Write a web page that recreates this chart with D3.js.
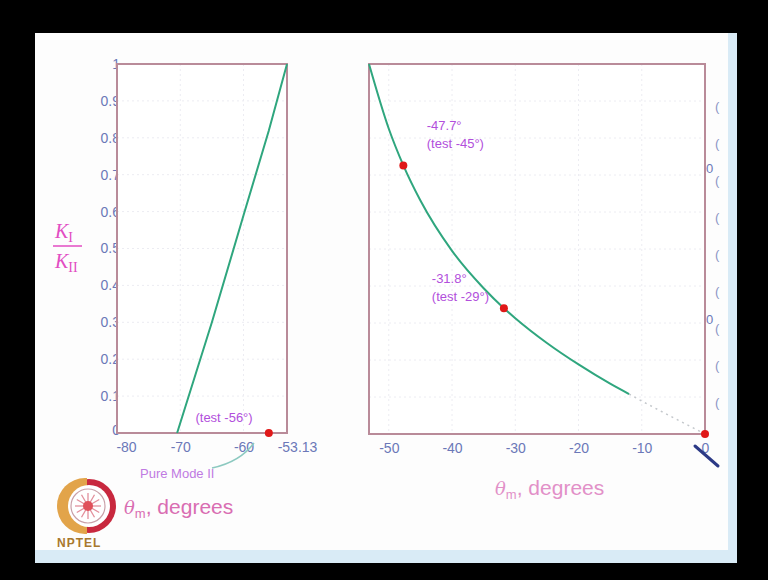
<!DOCTYPE html>
<html>
<head>
<meta charset="utf-8">
<script src="https://cdn.jsdelivr.net/npm/d3@7"></script>
<style>
  html, body { margin: 0; padding: 0; background: #000; }
  svg { display: block; font-family: "Liberation Sans", Arial, sans-serif; }
</style>
</head>
<body>
<svg id="chart" width="768" height="580"></svg>
<script>
// ratio ticks shared by both panels
const ratioTicks = [0, 0.1, 0.2, 0.3, 0.4, 0.5, 0.6, 0.7, 0.8, 0.9, 1];
const ratioLabels = ["0", "0.1", "0.2", "0.3", "0.4", "0.5", "0.6", "0.7", "0.8", "0.9", "1"];

// left panel: K_I / K_II against theta_m
const leftTicks = [-80, -70, -60, -53.13];
const leftTickLabels = ["-80", "-70", "-60", "-53.13"];
const leftTheta = [-70.5, -65, -60, -56, -53.13];
const leftRatio = [0, 0.3, 0.59, 0.82, 1];
const leftMarkTheta = [-56];
const leftMarkRatio = [0];

// right panel: K_II / K_I against theta_m
const rightTicks = [-50, -40, -30, -20, -10, 0];
const rightTickLabels = ["-50", "-40", "-30", "-20", "-10", "0"];
const rightTheta = [-53.13, -50, -47.7, -45, -40, -35, -31.8, -30, -25, -20, -15, -12];
const rightRatio = [1, 0.825, 0.726, 0.631, 0.495, 0.394, 0.34, 0.313, 0.246, 0.188, 0.136, 0.108];
const tailTheta = [-12, -10, -5, 0];
const tailRatio = [0.108, 0.089, 0.044, 0];
const rightMarkTheta = [-47.7, -31.8, 0];
const rightMarkRatio = [0.726, 0.34, 0];

// clipped label fragments on the right edge
const fragTicks = [0.1, 0.2, 0.3, 0.4, 0.5, 0.6, 0.7, 0.8, 0.9];
const fragZero = [0.72, 0.31];

const boxColor = "#b98b99";
const tickColor = "#6b78b8";
const lineColor = "#2fa67e";
const dotColor = "#e01818";
const noteColor = "#b24fdc";
const titleColor = "#d96db2";

const svg = d3.select("#chart");

// slide background
svg.append("rect").attr("x", 35).attr("y", 33).attr("width", 702).attr("height", 530).attr("fill", "#fdfdfd");
svg.append("rect").attr("x", 728).attr("y", 33).attr("width", 9).attr("height", 530).attr("fill", "#d9ebf6");
svg.append("rect").attr("x", 35).attr("y", 550).attr("width", 702).attr("height", 13).attr("fill", "#d9ebf6");

function panel(opts) {
  const { left, right, top, bottom, domain, ticks, tickLabels, showY } = opts;
  const x = d3.scaleLinear().domain(domain).range([left, right]);
  const y = d3.scaleLinear().domain([0, 1]).range([bottom, top]);

  if (showY) {
    svg.append("g")
      .attr("transform", `translate(${left},0)`)
      .call(d3.axisLeft(y).tickValues(ratioTicks).tickSize(0).tickPadding(-3)
        .tickFormat((d, i) => ratioLabels[i]))
      .call(g => g.select(".domain").remove())
      .selectAll("text")
      .attr("fill", tickColor)
      .style("font-size", "14px")
      .style("font-family", "Liberation Sans, Arial, sans-serif");
  }

  // plot area covers the right edge of the y labels
  svg.append("rect")
    .attr("x", left + 1).attr("y", top)
    .attr("width", right - left - 1).attr("height", bottom - top)
    .attr("fill", "#ffffff");

  // faint dotted grid
  const grid = svg.append("g").attr("stroke", "#ececf2").attr("stroke-dasharray", "2,3");
  grid.selectAll(".gy").data(ratioTicks.slice(1, -1)).join("line")
    .attr("x1", left).attr("x2", right)
    .attr("y1", d => y(d)).attr("y2", d => y(d));
  grid.selectAll(".gx").data(ticks.filter(t => x(t) > left + 2 && x(t) < right - 2)).join("line")
    .attr("x1", d => x(d)).attr("x2", d => x(d))
    .attr("y1", top).attr("y2", bottom);

  svg.append("g")
    .attr("transform", `translate(0,${bottom})`)
    .call(d3.axisBottom(x).tickValues(ticks).tickSize(0).tickPadding(9)
      .tickFormat((d, i) => tickLabels[i]))
    .call(g => g.select(".domain").remove())
    .selectAll("text")
    .attr("fill", tickColor)
    .style("font-size", "14px")
    .style("font-family", "Liberation Sans, Arial, sans-serif");

  svg.append("rect")
    .attr("x", left).attr("y", top)
    .attr("width", right - left).attr("height", bottom - top)
    .attr("fill", "none")
    .attr("stroke", boxColor)
    .attr("stroke-width", 2);

  return { x, y };
}

const L = panel({ left: 117, right: 287, top: 64, bottom: 433,
  domain: [-80, -53.13], ticks: leftTicks, tickLabels: leftTickLabels, showY: true });
const R = panel({ left: 369, right: 705, top: 64, bottom: 434,
  domain: [-53.13, 0], ticks: rightTicks, tickLabels: rightTickLabels, showY: false });

// nudge the outer left labels like the original
svg.selectAll("text").filter(function () { return this.textContent === "-53.13"; }).attr("dx", 10);
svg.selectAll("text").filter(function () { return this.textContent === "-80"; }).attr("dx", 9);
svg.selectAll("text").filter(function () { return this.textContent === "0" && +this.getAttribute("x") === 3; }).attr("dy", "0.1em");

const lineL = d3.line().x((d, i) => L.x(leftTheta[i])).y((d, i) => L.y(leftRatio[i]));
svg.append("path").datum(leftTheta).attr("d", lineL)
  .attr("fill", "none").attr("stroke", lineColor).attr("stroke-width", 2);

const lineR = d3.line().curve(d3.curveMonotoneX)
  .x((d, i) => R.x(rightTheta[i])).y((d, i) => R.y(rightRatio[i]));
svg.append("path").datum(rightTheta).attr("d", lineR)
  .attr("fill", "none").attr("stroke", lineColor).attr("stroke-width", 2);

const lineT = d3.line().x((d, i) => R.x(tailTheta[i])).y((d, i) => R.y(tailRatio[i]));
svg.append("path").datum(tailTheta).attr("d", lineT)
  .attr("fill", "none").attr("stroke", "#c4c8cc").attr("stroke-width", 1.5)
  .attr("stroke-dasharray", "2,4");

svg.selectAll(".dotL").data(leftMarkTheta).join("circle")
  .attr("cx", d => L.x(d)).attr("cy", (d, i) => L.y(leftMarkRatio[i]))
  .attr("r", 4).attr("fill", dotColor);
svg.selectAll(".dotR").data(rightMarkTheta).join("circle")
  .attr("cx", d => R.x(d)).attr("cy", (d, i) => R.y(rightMarkRatio[i]))
  .attr("r", 4).attr("fill", dotColor);

// annotations
function note(x, y, lines, size, color) {
  const t = svg.append("text").attr("x", x).attr("y", y)
    .attr("fill", color).style("font-size", size + "px");
  lines.forEach((s, i) => t.append("tspan").attr("x", x).attr("dy", i ? "1.35em" : 0).text(s));
}
note(L.x(-67.6), L.y(0) - 11, ["(test -56°)"], 13, noteColor);
note(R.x(-44), R.y(0.726) - 35, ["-47.7°", "(test -45°)"], 13, noteColor);
note(R.x(-43.2), R.y(0.34) - 25, ["-31.8°", "(test -29°)"], 13, noteColor);
note(140, 478, ["Pure Mode II"], 13, "#c07ae2");

svg.append("path")
  .attr("d", "M254,443 Q240,462 212,468")
  .attr("fill", "none").attr("stroke", "#8cc9c0").attr("stroke-width", 1.5);

// axis titles
function thetaTitle(x, y, size, color) {
  const t = svg.append("text").attr("x", x).attr("y", y).attr("fill", color)
    .style("font-size", size + "px");
  t.append("tspan").style("font-style", "italic").style("font-family", "DejaVu Serif, serif")
    .style("font-size", (size - 3) + "px").text("θ");
  t.append("tspan").attr("dy", 4).style("font-size", (size - 8) + "px").text("m");
  t.append("tspan").attr("dy", -4).text(", degrees");
}
thetaTitle(124, 514, 21, titleColor);
thetaTitle(495, 495, 21, "#e290c8");

const frac = svg.append("g").attr("fill", "#e24cc2")
  .style("font-family", "Liberation Serif, serif");
frac.append("text").attr("x", 55).attr("y", 238).style("font-size", "20px").style("font-style", "italic").text("K")
  .append("tspan").attr("dy", 4).style("font-size", "14px").style("font-style", "normal").text("I");
frac.append("line").attr("x1", 53).attr("x2", 82).attr("y1", 246).attr("y2", 246)
  .attr("stroke", "#e24cc2").attr("stroke-width", 1.5);
frac.append("text").attr("x", 55).attr("y", 268).style("font-size", "20px").style("font-style", "italic").text("K")
  .append("tspan").attr("dy", 4).style("font-size", "14px").style("font-style", "normal").text("II");

// clipped labels peeking out on the right edge
svg.selectAll(".frag").data(fragTicks).join("text")
  .attr("x", 715).attr("y", d => R.y(d) + 10)
  .attr("fill", "#8a94c4").style("font-size", "13px").text("(");
svg.selectAll(".fragz").data(fragZero).join("text")
  .attr("x", 706).attr("y", d => R.y(d) + 5)
  .attr("fill", "#6b78b8").style("font-size", "13px").text("0");

// pen stroke near the origin
svg.append("line").attr("x1", 695).attr("y1", 446).attr("x2", 718).attr("y2", 466)
  .attr("stroke", "#2c3a86").attr("stroke-width", 3).attr("stroke-linecap", "round");

// NPTEL logo
const defs = svg.append("defs");
defs.append("clipPath").attr("id", "logoLeft")
  .append("rect").attr("x", 50).attr("y", 470).attr("width", 37).attr("height", 75);
const logo = svg.append("g");
logo.append("circle").attr("cx", 89).attr("cy", 506).attr("r", 27).attr("fill", "#c8283e");
logo.append("circle").attr("cx", 85).attr("cy", 506).attr("r", 28).attr("fill", "#e2a44a")
  .attr("clip-path", "url(#logoLeft)");
logo.append("circle").attr("cx", 89).attr("cy", 506).attr("r", 21).attr("fill", "#fff");
logo.append("circle").attr("cx", 88).attr("cy", 506).attr("r", 17).attr("fill", "#fff")
  .attr("stroke", "#c9a0a8").attr("stroke-width", 1.2);
d3.range(12).forEach(i => {
  const a = i * Math.PI / 6;
  logo.append("line").attr("x1", 88).attr("y1", 506)
    .attr("x2", 88 + 13 * Math.cos(a)).attr("y2", 506 + 13 * Math.sin(a))
    .attr("stroke", "#e2909c").attr("stroke-width", 1.3);
});
logo.append("circle").attr("cx", 88).attr("cy", 506).attr("r", 5).attr("fill", "#e0505a");
svg.append("text").attr("x", 57).attr("y", 547).attr("fill", "#a8782e")
  .style("font-size", "12px").style("font-weight", "bold").style("letter-spacing", "1px").text("NPTEL");
</script>
</body>
</html>
